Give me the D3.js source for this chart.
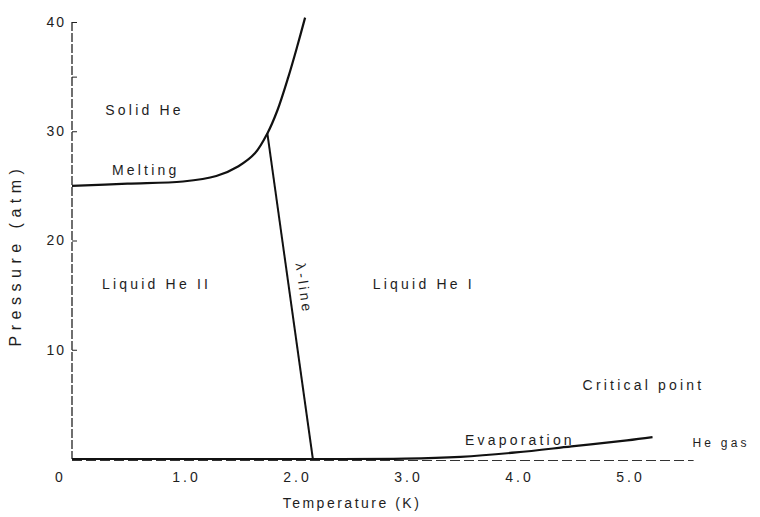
<!DOCTYPE html>
<html>
<head>
<meta charset="utf-8">
<script src="https://cdn.jsdelivr.net/npm/d3@7"></script>
<style>
  html, body { margin: 0; padding: 0; background: #ffffff; }
  svg { display: block; }
  text { font-family: "Liberation Sans", Arial, sans-serif; fill: #1e1e1e; }
</style>
</head>
<body>
<svg id="chart" width="760" height="517"></svg>
<script>
// ---- data ----
const meltingT = [0, 0.5, 1.0, 1.3, 1.5, 1.65, 1.76, 1.85, 1.95, 2.03, 2.10];
const meltingP = [25.0, 25.2, 25.4, 25.9, 26.8, 28.0, 29.8, 31.9, 35.0, 37.8, 40.4];

const lambdaT = [1.76, 2.17];
const lambdaP = [29.8, 0];

const evapT = [0, 1.0, 2.0, 3.0, 3.5, 4.0, 4.5, 5.0, 5.23];
const evapP = [0, 0, 0, 0.03, 0.2, 0.6, 1.15, 1.7, 2.0];

const xTicks = [0, 1, 2, 3, 4, 5];
const xTickLabels = ["0", "1.0", "2.0", "3.0", "4.0", "5.0"];
const yTicks = [10, 20, 30, 35, 40];
const yTickLabels = ["10", "20", "30", "", "40"];

const regionLabels = ["Solid He", "Melting", "Liquid He II", "Liquid He I", "Critical point", "Evaporation", "He gas"];
const regionT = [0.3, 0.36, 0.27, 2.71, 4.6, 3.54, 5.59];
const regionP = [31.5, 26.0, 15.6, 15.6, 6.3, 1.3, 1.1];

// ---- layout ----
const svg = d3.select("#chart");
const x = d3.scaleLinear().domain([0, 5.6]).range([72, 72 + 5.6 * 111]);
const y = d3.scaleLinear().domain([0, 40]).range([459, 22]);

// axes
const yAxis = d3.axisLeft(y).tickValues(yTicks)
  .tickFormat((d, i) => yTickLabels[i]).tickSizeInner(-5).tickSizeOuter(0).tickPadding(6);
const gy = svg.append("g").attr("transform", `translate(${x(0)},0)`).call(yAxis);
gy.select(".domain").remove();
gy.selectAll(".tick line").attr("stroke", "#222").attr("stroke-width", 1);
gy.selectAll(".tick text").style("font-size", "14px").style("letter-spacing", "2px")
  .attr("fill", "#1e1e1e");
svg.append("line")
  .attr("x1", x(0)).attr("x2", x(0)).attr("y1", y(40)).attr("y2", y(0))
  .attr("stroke", "#222").attr("stroke-width", 1.3).attr("stroke-dasharray", "9,2");

const xAxis = d3.axisBottom(x).tickValues(xTicks)
  .tickFormat((d, i) => xTickLabels[i]).tickSize(0).tickPadding(13);
const gx = svg.append("g").attr("transform", `translate(0,${y(0)})`).call(xAxis);
gx.select(".domain").remove();
gx.selectAll(".tick text").style("font-size", "14px").style("letter-spacing", "3px")
  .attr("fill", "#1e1e1e")
  .attr("dx", d => d === 0 ? -12 : 3);
svg.append("line")
  .attr("x1", x(0)).attr("x2", x(5.6)).attr("y1", y(0) + 1.5).attr("y2", y(0) + 1.5)
  .attr("stroke", "#333").attr("stroke-width", 1.2).attr("stroke-dasharray", "10,4");

// curves
const line = d3.line().x(d => x(d[0])).y(d => y(d[1]));
const lineSmooth = d3.line().x(d => x(d[0])).y(d => y(d[1])).curve(d3.curveCatmullRom.alpha(0.5));

svg.append("path").datum(meltingT.map((t, i) => [t, meltingP[i]]))
  .attr("d", lineSmooth).attr("fill", "none").attr("stroke", "#111").attr("stroke-width", 2.2);
svg.append("path").datum(lambdaT.map((t, i) => [t, lambdaP[i]]))
  .attr("d", line).attr("fill", "none").attr("stroke", "#111").attr("stroke-width", 2);
svg.append("path").datum(evapT.map((t, i) => [t, evapP[i]]))
  .attr("d", lineSmooth).attr("fill", "none").attr("stroke", "#111").attr("stroke-width", 2.2);

// region labels
svg.selectAll("text.region").data(regionLabels).enter().append("text")
  .attr("class", "region")
  .attr("x", (d, i) => x(regionT[i]))
  .attr("y", (d, i) => y(regionP[i]))
  .style("font-size", d => d === "He gas" ? "12px" : "14px")
  .style("letter-spacing", "3.2px")
  .attr("fill", d => d === "He gas" ? "#555" : "#1e1e1e")
  .text(d => d);

// lambda-line label, rotated along the line
const lamMid = [2.09, 15.6];
svg.append("text")
  .attr("transform", `translate(${x(lamMid[0])},${y(lamMid[1])}) rotate(82)`)
  .attr("text-anchor", "middle")
  .attr("dy", "0.35em")
  .style("font-size", "14px").style("letter-spacing", "3px")
  .text("λ-line");

// axis titles
svg.append("text")
  .attr("x", 352).attr("y", 508)
  .attr("text-anchor", "middle")
  .style("font-size", "14px").style("letter-spacing", "2.5px")
  .text("Temperature (K)");
svg.append("text")
  .attr("transform", "translate(21,255) rotate(-90)")
  .attr("text-anchor", "middle")
  .style("font-size", "16px").style("letter-spacing", "5.5px")
  .text("Pressure (atm)");
</script>
</body>
</html>
